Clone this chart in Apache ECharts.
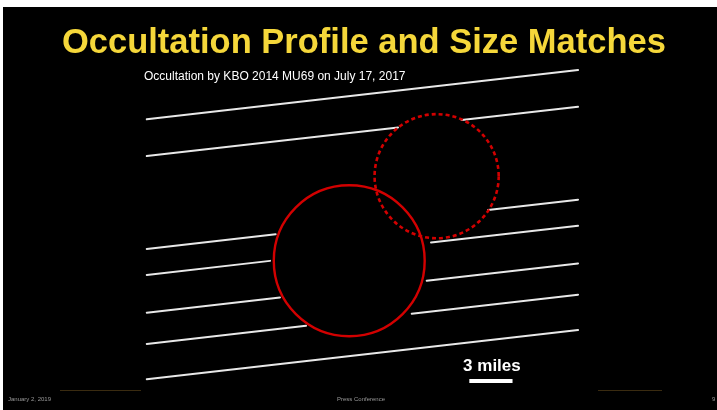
<!DOCTYPE html>
<html>
<head>
<meta charset="utf-8">
<title>Occultation Profile and Size Matches</title>
<script src="https://cdn.jsdelivr.net/npm/echarts@6/dist/echarts.min.js"></script>
<style>
	html, body { margin: 0; padding: 0; background: #fff; }
	#occult-chart { width: 717px; height: 410px; }
</style>
</head>
<body>
<div id="occult-chart"></div>
<script>
// chord segments in miles: [x1, y1, x2, y2]
var chordSegments = [
	[0.47, 18.88, 30.42, 22.30],
	[0.47, 16.33, 17.92, 18.32],
	[22.34, 18.83, 30.42, 19.75],
	[0.47, 9.88, 9.42, 10.90],
	[24.17, 12.59, 30.42, 13.30],
	[0.47, 8.07, 9.03, 9.05],
	[20.21, 10.33, 30.42, 11.49],
	[0.47, 5.45, 9.72, 6.51],
	[19.91, 7.67, 30.42, 8.87],
	[0.47, 3.28, 11.53, 4.54],
	[18.87, 5.38, 30.42, 6.70],
	[0.47, 0.83, 30.42, 4.25]
];
// fitted circles: centre (miles) and radius (miles)
var circleCenters = [[14.53, 9.06], [20.60, 14.93]];
var circleRadii = [5.24, 4.31];
// scale bar
var scaleBarStart = [22.87, 0.71];
var scaleBarMiles = 3;
var scaleBarLabel = "3 miles";
// texts
var titleText = "Occultation Profile and Size Matches";
var subtitleText = "Occultation by KBO 2014 MU69 on July 17, 2017";
var footerTexts = ["January 2, 2019", "Press Conference", "9"];

var occultChart = {
	myChart : null,

	init : function() {
		occultChart.myChart = echarts.init(document.getElementById("occult-chart"));
		occultChart.myChart.setOption(occultChart.buildOption());
	},

	// 弦线
	buildChords : function() {
		var data = [];
		for (var i = 0; i < chordSegments.length; i++) {
			var s = chordSegments[i];
			data.push({ coords : [[s[0], s[1]], [s[2], s[3]]] });
		}
		return data;
	},

	// 圆
	buildCircles : function() {
		var data = [];
		for (var i = 0; i < circleCenters.length; i++) {
			data.push([circleCenters[i][0], circleCenters[i][1], circleRadii[i]]);
		}
		return data;
	},

	buildOption : function() {
		var font = "'Liberation Sans', Arial, sans-serif";
		return {
			backgroundColor : "#000",
			animation : false,
			title : [{
				text : titleText,
				left : 57,
				top : 21,
				textStyle : { color : "#f5d73a", fontSize : 34.5, fontWeight : "bold", fontFamily : font }
			}, {
				text : subtitleText,
				left : 139,
				top : 66,
				textStyle : { color : "#fff", fontSize : 12, fontWeight : "normal", fontFamily : font }
			}],
			grid : { left : 140, top : 60, width : 446.4, height : 331.2 },
			xAxis : { type : "value", min : 0, max : 31, show : false },
			yAxis : { type : "value", min : 0, max : 23, show : false },
			graphic : [
				{ type : "rect", shape : { x : 0, y : 0, width : 717, height : 7 }, style : { fill : "#fff" } },
				{ type : "rect", shape : { x : 0, y : 0, width : 3, height : 410 }, style : { fill : "#fff" } },
				{ type : "line", shape : { x1 : 60, y1 : 390.5, x2 : 141, y2 : 390.5 }, style : { stroke : "#3a2b10", lineWidth : 1 } },
				{ type : "line", shape : { x1 : 598, y1 : 390.5, x2 : 662, y2 : 390.5 }, style : { stroke : "#3a2b10", lineWidth : 1 } },
				{ type : "text", left : 8, top : 396, style : { text : footerTexts[0], fill : "#999", font : "6px " + font } },
				{ type : "text", left : 337, top : 396, style : { text : footerTexts[1], fill : "#999", font : "6px " + font } },
				{ type : "text", left : 712, top : 396, style : { text : footerTexts[2], fill : "#999", font : "6px " + font } }
			],
			series : [{
				type : "lines",
				coordinateSystem : "cartesian2d",
				polyline : false,
				silent : true,
				lineStyle : { color : "#e8e8e8", width : 2, opacity : 1, cap : "round" },
				data : occultChart.buildChords()
			}, {
				type : "custom",
				silent : true,
				clip : false,
				data : occultChart.buildCircles(),
				renderItem : function(params, api) {
					var c = api.coord([api.value(0), api.value(1)]);
					var r = api.size([api.value(2), api.value(2)]);
					var dashed = params.dataIndex === 1;
					return {
						type : "circle",
						shape : { cx : c[0], cy : c[1], r : (r[0] + r[1]) / 2 },
						style : {
							fill : "none",
							stroke : "#d20000",
							lineWidth : dashed ? 2.6 : 2.4,
							lineDash : dashed ? [4, 3] : null
						}
					};
				}
			}, {
				type : "custom",
				silent : true,
				clip : false,
				data : [[scaleBarStart[0], scaleBarStart[1], scaleBarStart[0] + scaleBarMiles]],
				renderItem : function(params, api) {
					var p1 = api.coord([api.value(0), api.value(1)]);
					var p2 = api.coord([api.value(2), api.value(1)]);
					return {
						type : "group",
						children : [{
							type : "rect",
							shape : { x : p1[0], y : p1[1] - 2, width : p2[0] - p1[0], height : 4 },
							style : { fill : "#fff" }
						}, {
							type : "text",
							x : (p1[0] + p2[0]) / 2 + 1,
							y : p1[1] - 6,
							style : {
								text : scaleBarLabel,
								fill : "#fff",
								font : "bold 17px " + font,
								align : "center",
								verticalAlign : "bottom"
							}
						}]
					};
				}
			}]
		};
	}
};

occultChart.init();
</script>
</body>
</html>
